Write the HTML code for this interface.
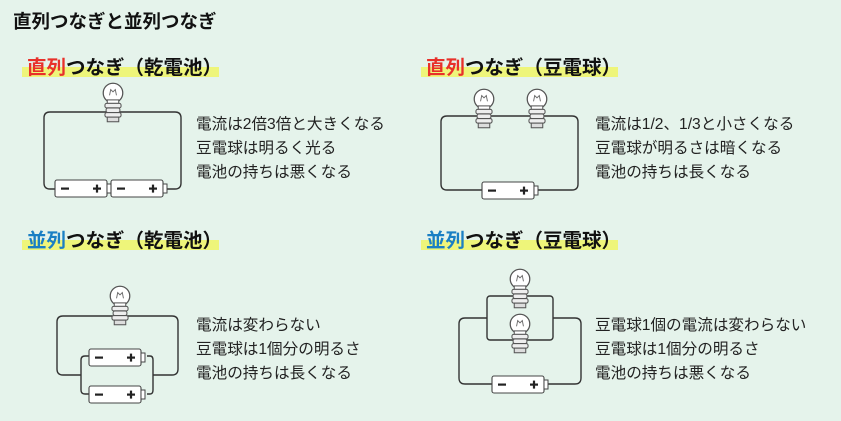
<!DOCTYPE html>
<html><head><meta charset="utf-8"><style>
body{margin:0;background:#e5f3eb;}
svg{display:block;}
text{font-family:"Liberation Sans","Noto Sans CJK JP",sans-serif;}
.h{font-size:19.5px;font-weight:bold;fill:#111;}
.t{font-size:15.6px;fill:#222;}
.w{fill:none;stroke:#333;stroke-width:1.4;}
</style></head><body>
<svg width="841" height="421" viewBox="0 0 841 421">
<defs>
<g id="bulb" transform="scale(1.15)">
 <circle cx="0" cy="0" r="8.5" fill="#fff" stroke="#555" stroke-width="1.1"/>
 <path d="M-3 2 L-2 -3 L0 -1 L2 -3 L3 2" fill="none" stroke="#666" stroke-width="0.8"/>
 <rect x="-5" y="6" width="10" height="3" fill="#fff" stroke="#555" stroke-width="0.9"/>
 <rect x="-7" y="9" width="14" height="4" rx="1.5" fill="#eee" stroke="#555" stroke-width="0.9"/>
 <rect x="-6" y="13" width="12" height="4" rx="1.5" fill="#eee" stroke="#555" stroke-width="0.9"/>
 <rect x="-7" y="17" width="14" height="4" rx="1.5" fill="#eee" stroke="#555" stroke-width="0.9"/>
 <rect x="-5" y="21" width="10" height="4" fill="#ddd" stroke="#555" stroke-width="0.9"/>
</g>
<g id="bat">
 <rect x="0" y="0" width="52" height="17" rx="2" fill="#fff" stroke="#444" stroke-width="1.1"/>
 <rect x="52" y="4" width="4" height="9" fill="#fff" stroke="#444" stroke-width="1"/>
 <rect x="6" y="7.5" width="8" height="2.2" fill="#222"/>
 <rect x="38" y="7.5" width="8" height="2.2" fill="#222"/>
 <rect x="40.9" y="4.6" width="2.2" height="8" fill="#222"/>
</g>
</defs>
<text x="13" y="28" style="font-size:18.5px;font-weight:bold;fill:#111">直列つなぎと並列つなぎ</text>

<!-- panel 1 -->
<rect x="22" y="67" width="197" height="10" fill="#eef57a"/>
<text x="27" y="74" class="h"><tspan fill="#e8302a">直列</tspan>つなぎ（乾電池）</text>
<path class="w" d="M56 189 H50 Q44 189 44 183 V118 Q44 112 50 112 H175 Q181 112 181 118 V183 Q181 189 175 189 H167"/>
<use href="#bulb" x="113" y="93"/>
<use href="#bat" x="55" y="180"/>
<use href="#bat" x="111" y="180"/>
<text class="t" x="196" y="129">電流は2倍3倍と大きくなる</text>
<text class="t" x="196" y="153">豆電球は明るく光る</text>
<text class="t" x="196" y="177">電池の持ちは悪くなる</text>

<!-- panel 2 -->
<rect x="421" y="67" width="197" height="10" fill="#eef57a"/>
<text x="426" y="74" class="h"><tspan fill="#e8302a">直列</tspan>つなぎ（豆電球）</text>
<path class="w" d="M482 190 H447 Q441 190 441 184 V122 Q441 116 447 116 H572 Q578 116 578 122 V184 Q578 190 572 190 H537"/>
<use href="#bulb" x="484" y="99"/>
<use href="#bulb" x="537" y="99"/>
<use href="#bat" x="482" y="182"/>
<text class="t" x="595" y="129">電流は1/2、1/3と小さくなる</text>
<text class="t" x="595" y="153">豆電球が明るさは暗くなる</text>
<text class="t" x="595" y="177">電池の持ちは長くなる</text>

<!-- panel 3 -->
<rect x="22" y="240" width="197" height="10" fill="#eef57a"/>
<text x="27" y="247" class="h"><tspan fill="#1a7fc4">並列</tspan>つなぎ（乾電池）</text>
<path class="w" d="M81 375 H63 Q57 375 57 369 V322 Q57 316 63 316 H172 Q178 316 178 322 V369 Q178 375 172 375 H153"/>
<path class="w" d="M89 356 H85 Q81 356 81 360 V390 Q81 394 85 394 H89"/>
<path class="w" d="M147 356 H150 Q153 356 153 360 V390 Q153 394 150 394 H147"/>
<use href="#bulb" x="120" y="296"/>
<use href="#bat" x="89" y="349"/>
<use href="#bat" x="89" y="386"/>
<text class="t" x="196" y="330">電流は変わらない</text>
<text class="t" x="196" y="354">豆電球は1個分の明るさ</text>
<text class="t" x="196" y="378">電池の持ちは長くなる</text>

<!-- panel 4 -->
<rect x="421" y="240" width="197" height="10" fill="#eef57a"/>
<text x="426" y="247" class="h"><tspan fill="#1a7fc4">並列</tspan>つなぎ（豆電球）</text>
<path class="w" d="M487 318 H465 Q459 318 459 324 V378 Q459 384 465 384 H492"/>
<path class="w" d="M548 384 H575 Q581 384 581 378 V324 Q581 318 575 318 H553"/>
<rect class="w" x="487" y="296" width="66" height="44" rx="3"/>
<use href="#bulb" x="520" y="279"/>
<use href="#bulb" x="520" y="324"/>
<use href="#bat" x="492" y="376"/>
<text class="t" x="595" y="330">豆電球1個の電流は変わらない</text>
<text class="t" x="595" y="354">豆電球は1個分の明るさ</text>
<text class="t" x="595" y="378">電池の持ちは悪くなる</text>
</svg>
</body></html>
